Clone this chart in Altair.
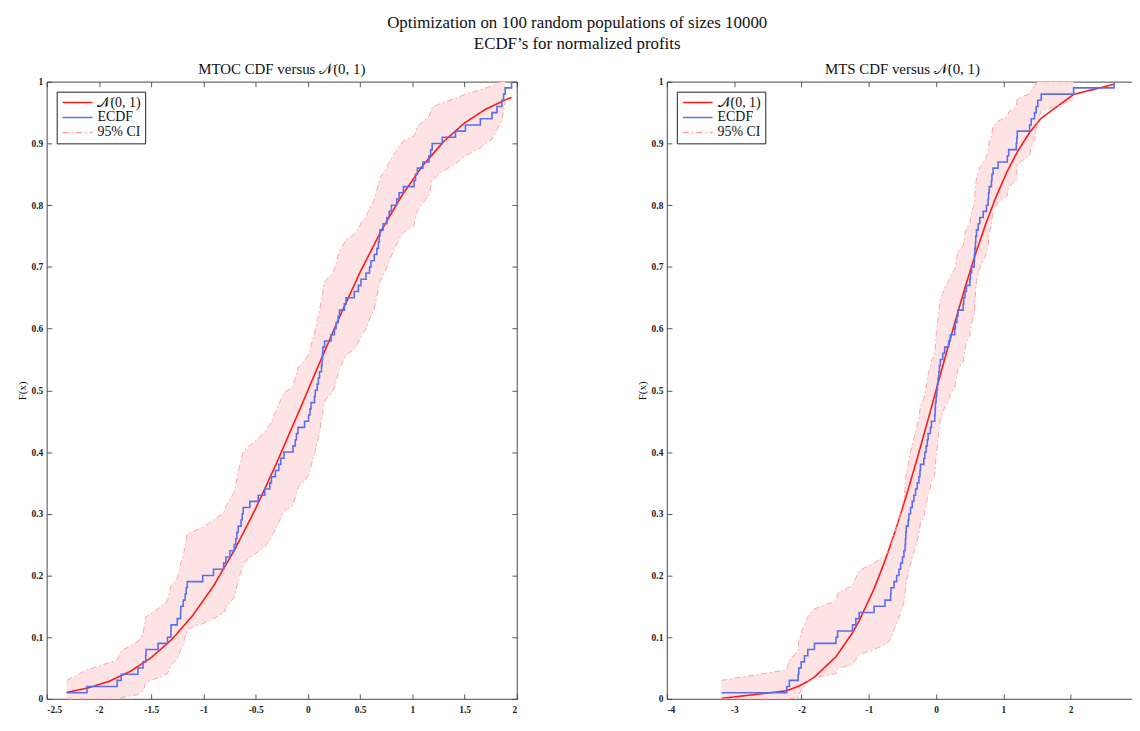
import altair as alt
import pandas as pd

FONT = "Liberation Serif"

# ---------------- data ----------------
# sorted normalized profits (ECDF sample points)
mtoc_samples = [-2.31, -2.115, -1.826, -1.787, -1.627, -1.578, -1.553, -1.55, -1.434, -1.344,
                -1.312, -1.31, -1.251, -1.219, -1.217, -1.193, -1.175, -1.165, -1.155, -1.007,
                -0.904, -0.807, -0.785, -0.746, -0.705, -0.69, -0.68, -0.667, -0.64, -0.629,
                -0.619, -0.556, -0.476, -0.413, -0.365, -0.349, -0.311, -0.279, -0.26, -0.229,
                -0.143, -0.121, -0.11, -0.095, -0.032, 0.006, 0.02, 0.03, 0.063, 0.07,
                0.089, 0.10, 0.111, 0.13, 0.135, 0.14, 0.143, 0.16, 0.222, 0.254,
                0.27, 0.29, 0.302, 0.349, 0.365, 0.444, 0.483, 0.508, 0.556, 0.59,
                0.603, 0.635, 0.66, 0.675, 0.683, 0.69, 0.72, 0.756, 0.778, 0.80,
                0.85, 0.873, 0.914, 1.016, 1.03, 1.048, 1.10, 1.159, 1.175, 1.19,
                1.286, 1.413, 1.508, 1.651, 1.762, 1.81, 1.857, 1.873, 1.889, 1.95]

mts_samples = [-3.19, -2.22, -2.18, -2.05, -2.04, -2.005, -1.956, -1.906, -1.808, -1.488,
               -1.463, -1.241, -1.192, -1.143, -0.921, -0.759, -0.675, -0.670, -0.626, -0.586,
               -0.552, -0.527, -0.50, -0.478, -0.46, -0.455, -0.45, -0.443, -0.414, -0.404,
               -0.379, -0.355, -0.330, -0.305, -0.28, -0.256, -0.24, -0.232, -0.182, -0.167,
               -0.148, -0.13, -0.118, -0.084, -0.069, -0.02, -0.015, -0.01, 0.0, 0.01,
               0.02, 0.03, 0.04, 0.05, 0.064, 0.099, 0.128, 0.187, 0.212, 0.276,
               0.286, 0.310, 0.325, 0.404, 0.41, 0.429, 0.45, 0.502, 0.51, 0.527,
               0.567, 0.57, 0.576, 0.585, 0.59, 0.601, 0.626, 0.65, 0.70, 0.749,
               0.773, 0.78, 0.79, 0.823, 0.83, 0.847, 0.921, 1.059, 1.079, 1.192,
               1.20, 1.207, 1.389, 1.414, 1.463, 1.488, 1.512, 1.562, 2.044, 2.645]

# N(0,1) CDF curve as drawn
mtoc_norm_x = [-2.31, -2.1, -1.9, -1.7, -1.5, -1.3, -1.1, -0.9, -0.7, -0.5, -0.3, -0.1,
               0.1, 0.3, 0.5, 0.7, 0.9, 1.1, 1.3, 1.5, 1.7, 1.9, 1.95]
mtoc_norm_f = [0.0104, 0.0179, 0.0287, 0.0446, 0.0668, 0.0968, 0.1357, 0.1841, 0.2420, 0.3085,
               0.3821, 0.4602, 0.5398, 0.6179, 0.6915, 0.7580, 0.8159, 0.8643, 0.9032, 0.9332,
               0.9554, 0.9713, 0.9744]

mts_norm_x = [-3.19, -2.22, -2.05, -1.9, -1.808, -1.488, -1.241, -1.143, -0.921, -0.759,
              -0.6, -0.45, -0.3, -0.15, 0.0, 0.15, 0.3, 0.45, 0.6, 0.75, 0.9,
              1.059, 1.207, 1.389, 1.562, 2.044, 2.645]
mts_norm_f = [0.0007, 0.0132, 0.0202, 0.0287, 0.0353, 0.0683, 0.1073, 0.1265, 0.1785, 0.2239,
              0.2743, 0.3264, 0.3821, 0.4404, 0.5, 0.5596, 0.6179, 0.6736, 0.7257, 0.7734, 0.8159,
              0.8552, 0.8863, 0.9176, 0.9408, 0.9795, 0.9959]

# 95% confidence bounds
mtoc_ci_x = [-2.31, -2.115, -1.826, -1.787, -1.627, -1.578, -1.55, -1.434, -1.344, -1.31,
             -1.251, -1.217, -1.193, -1.155, -1.007, -0.904, -0.807, -0.785, -0.746, -0.705,
             -0.667, -0.619, -0.556, -0.476, -0.413, -0.365, -0.311, -0.229, -0.143, -0.095,
             -0.032, 0.006, 0.07, 0.111, 0.16, 0.222, 0.254, 0.302, 0.365, 0.444,
             0.483, 0.508, 0.556, 0.603, 0.635, 0.69, 0.756, 0.778, 0.873, 0.914,
             1.016, 1.048, 1.159, 1.19, 1.286, 1.413, 1.508, 1.651, 1.762, 1.81,
             1.857, 1.873, 1.889]
mtoc_ci_lo = [0.0, 0.0, 0.0, 0.002, 0.007, 0.013, 0.027, 0.034, 0.041, 0.056,
              0.064, 0.080, 0.088, 0.113, 0.122, 0.130, 0.139, 0.148, 0.156, 0.165,
              0.192, 0.219, 0.229, 0.238, 0.247, 0.257, 0.275, 0.304, 0.314, 0.343,
              0.353, 0.362, 0.402, 0.432, 0.483, 0.494, 0.504, 0.535, 0.557, 0.567,
              0.578, 0.589, 0.599, 0.621, 0.632, 0.676, 0.699, 0.710, 0.745, 0.756,
              0.768, 0.792, 0.816, 0.841, 0.854, 0.867, 0.880, 0.893, 0.907, 0.922,
              0.937, 0.953, 0.970]
mtoc_ci_hi = [0.030, 0.047, 0.063, 0.078, 0.093, 0.107, 0.133, 0.146, 0.159, 0.184,
              0.196, 0.220, 0.232, 0.267, 0.278, 0.290, 0.301, 0.312, 0.324, 0.335,
              0.368, 0.401, 0.411, 0.422, 0.433, 0.444, 0.465, 0.496, 0.506, 0.537,
              0.548, 0.558, 0.598, 0.628, 0.677, 0.686, 0.696, 0.725, 0.744, 0.753,
              0.762, 0.771, 0.781, 0.799, 0.808, 0.844, 0.861, 0.870, 0.895, 0.904,
              0.912, 0.928, 0.944, 0.959, 0.966, 0.973, 0.980, 0.987, 0.993, 0.998,
              1.0, 1.0, 1.0]

mts_ci_x = [-3.19, -2.22, -2.18, -2.05, -2.04, -2.005, -1.956, -1.906, -1.808, -1.488,
            -1.463, -1.241, -1.192, -1.143, -0.921, -0.759, -0.675, -0.626, -0.586, -0.527,
            -0.478, -0.455, -0.443, -0.414, -0.404, -0.355, -0.305, -0.256, -0.232, -0.182,
            -0.148, -0.118, -0.084, -0.069, -0.02, 0.0, 0.03, 0.05, 0.064, 0.099,
            0.128, 0.187, 0.212, 0.276, 0.310, 0.325, 0.404, 0.429, 0.45, 0.502,
            0.527, 0.567, 0.576, 0.59, 0.601, 0.626, 0.65, 0.70, 0.749, 0.773,
            0.79, 0.823, 0.847, 0.921, 1.059, 1.079, 1.192, 1.207, 1.389, 1.414,
            1.463, 1.488, 1.512, 1.562, 2.044]
mts_ci_lo = [0.0, 0.0, 0.0, 0.002, 0.007, 0.0135, 0.020, 0.027, 0.034, 0.041,
             0.049, 0.056, 0.064, 0.072, 0.080, 0.088, 0.096, 0.113, 0.122, 0.139,
             0.156, 0.174, 0.192, 0.201, 0.210, 0.229, 0.247, 0.266, 0.285, 0.294,
             0.314, 0.333, 0.343, 0.353, 0.362, 0.392, 0.422, 0.442, 0.453, 0.463,
             0.473, 0.483, 0.494, 0.504, 0.525, 0.535, 0.546, 0.567, 0.578, 0.589,
             0.610, 0.621, 0.643, 0.665, 0.676, 0.688, 0.699, 0.710, 0.722, 0.733,
             0.756, 0.768, 0.792, 0.804, 0.816, 0.829, 0.841, 0.867, 0.880, 0.893,
             0.907, 0.922, 0.937, 0.953, 0.970]
mts_ci_hi = [0.030, 0.047, 0.063, 0.078, 0.093, 0.107, 0.120, 0.133, 0.146, 0.159,
             0.171, 0.184, 0.196, 0.208, 0.220, 0.232, 0.244, 0.267, 0.278, 0.301,
             0.324, 0.346, 0.368, 0.379, 0.390, 0.411, 0.433, 0.454, 0.475, 0.486,
             0.506, 0.527, 0.537, 0.548, 0.558, 0.588, 0.618, 0.638, 0.648, 0.657,
             0.667, 0.677, 0.686, 0.696, 0.715, 0.725, 0.734, 0.753, 0.762, 0.771,
             0.790, 0.799, 0.817, 0.835, 0.844, 0.853, 0.861, 0.870, 0.878, 0.887,
             0.904, 0.912, 0.928, 0.936, 0.944, 0.951, 0.959, 0.973, 0.980, 0.987,
             0.993, 0.998, 1.0, 1.0, 1.0]

SERIES = ["\U0001D4A9(0, 1)", "ECDF", "95% CI"]
COLORS = ["#ff1a1a", "#5a6ef0", "#ff9c9c"]
DASHES = [[1, 0], [1, 0], [6, 3, 1.5, 3]]
Y_TICKS = [0, 0.1, 0.2, 0.3, 0.4, 0.5, 0.6, 0.7, 0.8, 0.9, 1]
TICK = 5


def panel(samples, nx, nf, cx, clo, chi, title, xdom, xticks, width):
    legend = alt.Legend(orient="top-left", offset=10, title=None, strokeColor="#222",
                        fillColor="white", padding=4, labelFont=FONT, labelFontSize=14,
                        labelColor="#111", symbolType="M-1,0H5", symbolSize=100,
                        symbolStrokeWidth=1.5, rowPadding=1, labelOffset=23,
                        cornerRadius=0)
    color = alt.Color("series:N", scale=alt.Scale(domain=SERIES, range=COLORS), legend=legend)
    dash = alt.StrokeDash("series:N", scale=alt.Scale(domain=SERIES, range=DASHES), legend=legend)
    xs = alt.Scale(domain=xdom, nice=False, zero=False)
    ys = alt.Scale(domain=[0, 1], nice=False, zero=False)
    common = dict(domain=False, grid=False, tickSize=TICK, offset=-TICK, tickColor="#333",
                  tickWidth=0.8, labelFont=FONT, labelFontSize=9.5, labelFontWeight="bold",
                  labelColor="#222",
                  titleFont=FONT, titleFontSize=11, titleFontWeight="normal", titleColor="#111",
                  labelExpr="'' + datum.value")
    x_bottom = alt.Axis(orient="bottom", values=xticks, title="x", labelPadding=6,
                        titlePadding=0, **common)
    y_left = alt.Axis(orient="left", values=Y_TICKS, title="F(x)", labelPadding=4,
                      titlePadding=4, **common)
    x_top = alt.Axis(orient="top", values=xticks, title=None, labels=False, **common)
    y_right = alt.Axis(orient="right", values=Y_TICKS, title=None, labels=False, **common)

    band = pd.DataFrame({"x": cx, "lo": clo, "hi": chi})
    ci = pd.concat([pd.DataFrame({"x": cx, "y": clo, "bound": "lo"}),
                    pd.DataFrame({"x": cx, "y": chi, "bound": "hi"})], ignore_index=True)
    ci["series"] = SERIES[2]
    norm = pd.DataFrame({"x": nx, "y": nf, "series": SERIES[0]})
    ecdf = pd.DataFrame({"x": samples, "series": SERIES[1]})

    area = alt.Chart(band).mark_area(color="#fde3e3", opacity=1).encode(
        x=alt.X("x:Q", scale=xs, axis=x_bottom),
        y=alt.Y("lo:Q", scale=ys, axis=y_left),
        y2="hi:Q",
    )
    frame = alt.Chart(band).mark_point(opacity=0).encode(
        x=alt.X("x:Q", scale=xs, axis=x_top),
        y=alt.Y("lo:Q", scale=ys, axis=y_right),
    )
    red = alt.Chart(norm).mark_line(strokeWidth=1.6).encode(
        x=alt.X("x:Q", scale=xs, axis=None),
        y=alt.Y("y:Q", scale=ys, axis=None),
        color=color, strokeDash=dash,
    )
    blue = alt.Chart(ecdf).transform_window(
        F="cume_dist()", sort=[alt.SortField("x")]
    ).mark_line(interpolate="step-after", strokeWidth=1.6).encode(
        x=alt.X("x:Q", scale=xs, axis=None),
        y=alt.Y("F:Q", scale=ys, axis=None),
        color=color, strokeDash=dash,
    )
    bounds = alt.Chart(ci).mark_line(strokeWidth=0.9).encode(
        x=alt.X("x:Q", scale=xs, axis=None),
        y=alt.Y("y:Q", scale=ys, axis=None),
        detail="bound:N", color=color, strokeDash=dash,
    )
    return alt.layer(area, frame, red, blue, bounds).resolve_axis(
        x="independent", y="independent"
    ).properties(
        width=width, height=621,
        title=alt.TitleParams(title, font=FONT, fontSize=15, fontWeight="normal",
                              color="#111", offset=0),
    )


left = panel(mtoc_samples, mtoc_norm_x, mtoc_norm_f, mtoc_ci_x, mtoc_ci_lo, mtoc_ci_hi,
             "MTOC CDF versus \U0001D4A9(0, 1)", [-2.5, 2],
             [-2.5, -2, -1.5, -1, -0.5, 0, 0.5, 1, 1.5, 2], 473)
# the right axis runs to 3, just past the picture's right edge
right = panel(mts_samples, mts_norm_x, mts_norm_f, mts_ci_x, mts_ci_lo, mts_ci_hi,
              "MTS CDF versus \U0001D4A9(0, 1)", [-4, 3],
              [-4, -3, -2, -1, 0, 1, 2], 474)

chart = alt.hconcat(left, right, spacing=118).resolve_scale(
    color="independent", strokeDash="independent"
).properties(
    title=alt.TitleParams(["Optimization on 100 random populations of sizes 10000",
                           "ECDF\u2019s for normalized profits"],
                          font=FONT, fontSize=17, fontWeight="normal", color="#111",
                          anchor="middle", lineHeight=22, offset=8),
    padding={"left": 7, "top": 3, "right": -7, "bottom": -14},
).configure_view(stroke="#333", strokeWidth=0.9).configure_title(font=FONT)

chart.save("out.html", embed_options={"renderer": "svg", "actions": False})
